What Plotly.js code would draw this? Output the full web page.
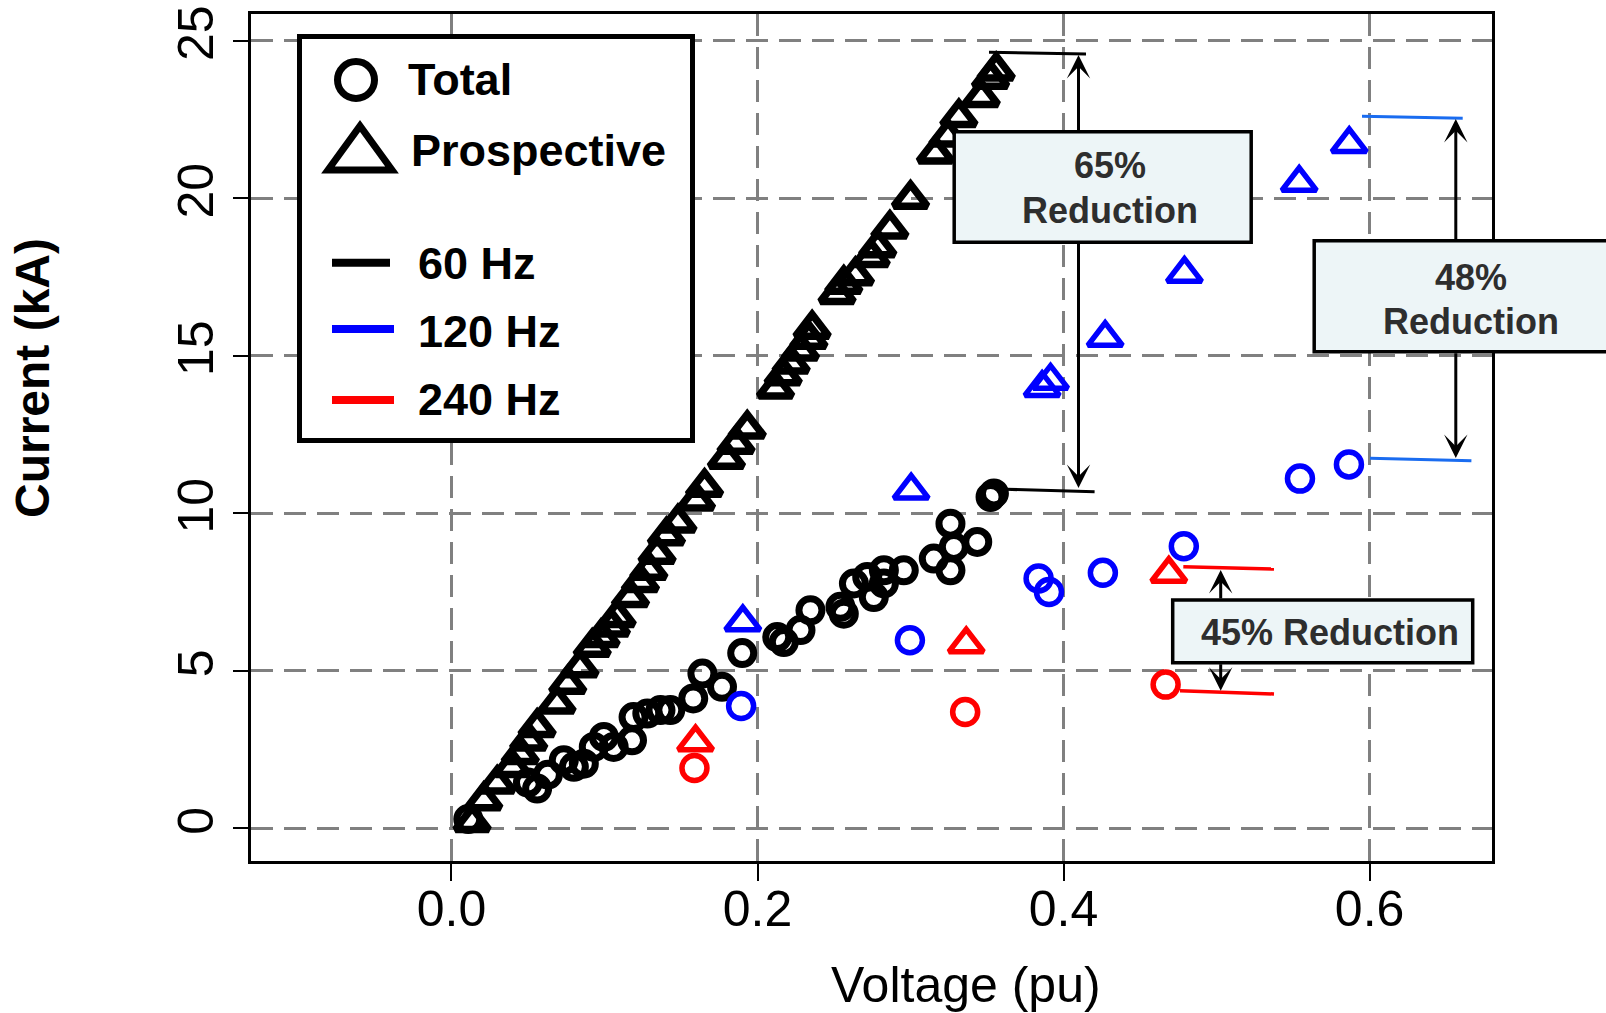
<!DOCTYPE html>
<html><head><meta charset="utf-8">
<script src="https://cdn.plot.ly/plotly-3.0.1.min.js"></script>
<style>html,body{margin:0;padding:0;background:#fff;}#chart{width:1606px;height:1013px;}</style>
</head><body><div id="chart"></div>
<script>
// ---------------- data ----------------
const pro60_x = [0.0135,0.0211,0.0299,0.0397,0.0450,0.0505,0.0560,0.0690,0.0760,0.0840,0.0920,0.0978,0.1045,0.1083,0.1170,0.1235,0.1290,0.1344,0.1405,0.1480,0.1601,0.1654,0.1797,0.1860,0.1933,0.2118,0.2168,0.2220,0.2281,0.2336,0.2357,0.2520,0.2564,0.2640,0.2743,0.2786,0.2865,0.3000,0.3163,0.3245,0.3316,0.3462,0.3523,0.3560];
const pro60_y = [0.19,0.88,1.41,1.94,2.35,2.78,3.21,3.95,4.58,5.10,5.75,6.06,6.40,6.70,7.33,7.81,8.20,8.71,9.29,9.70,10.40,10.83,11.72,12.20,12.68,13.95,14.37,14.75,15.16,15.53,15.85,16.95,17.28,17.55,18.13,18.44,19.03,19.98,21.41,21.95,22.57,23.21,23.79,24.05];
const tot60_x = [0.011,0.050,0.056,0.063,0.0734,0.080,0.0865,0.093,0.0996,0.106,0.118,0.119,0.128,0.1366,0.143,0.158,0.164,0.1768,0.190,0.2129,0.2172,0.2281,0.2346,0.2542,0.2564,0.263,0.2717,0.276,0.2826,0.2826,0.2956,0.3152,0.3261,0.3283,0.3261,0.3436,0.3523,0.3545];
const tot60_y = [0.29,1.45,1.26,1.70,2.16,1.95,2.05,2.58,2.90,2.58,2.79,3.53,3.64,3.75,3.75,4.12,4.91,4.49,5.56,6.07,5.91,6.29,6.92,7.03,6.81,7.77,7.98,7.34,8.19,7.77,8.19,8.56,9.67,8.93,8.19,9.09,10.52,10.63];
const pro120_x = [0.1904,0.3004,0.3860,0.3915,0.4272,0.4790,0.5540,0.5867];
const pro120_y = [6.54,10.72,13.98,14.21,15.57,17.60,20.49,21.72];
const tot120_x = [0.1893,0.2996,0.3837,0.3905,0.4257,0.4786,0.5545,0.5865];
const tot120_y = [3.88,5.97,7.93,7.50,8.11,8.95,11.10,11.55];
const pro240_x = [0.1595,0.3364,0.4688];
const pro240_y = [2.73,5.84,8.08];
const tot240_x = [0.1588,0.3357,0.4667];
const tot240_y = [1.91,3.69,4.56];
const xTickVals = [0,0.2,0.4,0.6];
const xTickText = ['0.0','0.2','0.4','0.6'];
const yTickVals = [0,5,10,15,20,25];
const yTickText = ['0','5','10','15','20','25'];
const legendLabels = ['Total','Prospective','60 Hz','120 Hz','240 Hz'];
const reductionLabels = ['65%','Reduction','48%','Reduction','45% Reduction'];

// ---------------- layout helpers (pixel -> paper) ----------------
const ML=251, MT=14, PW=1241, PH=847;
function fx(p){return (p-ML)/PW;}
function fy(p){return (MT+PH-p)/PH;}
const FONT = 'Liberation Sans, Arial, sans-serif';

const traces = [
  {x:pro60_x, y:pro60_y, mode:'markers', type:'scatter',
   marker:{symbol:'triangle-up-open', size:29, color:'#000', line:{width:7.5, color:'#000'}}},
  {x:tot60_x, y:tot60_y, mode:'markers', type:'scatter',
   marker:{symbol:'circle-open', size:23, color:'#000', line:{width:7, color:'#000'}}},
  {x:pro120_x, y:pro120_y, mode:'markers', type:'scatter',
   marker:{symbol:'triangle-up-open', size:30, color:'#0000ff', line:{width:5.5, color:'#0000ff'}}},
  {x:tot120_x, y:tot120_y, mode:'markers', type:'scatter',
   marker:{symbol:'circle-open', size:25, color:'#0000ff', line:{width:5.5, color:'#0000ff'}}},
  {x:pro240_x, y:pro240_y, mode:'markers', type:'scatter',
   marker:{symbol:'triangle-up-open', size:30, color:'#ff0000', line:{width:5.5, color:'#ff0000'}}},
  {x:tot240_x, y:tot240_y, mode:'markers', type:'scatter',
   marker:{symbol:'circle-open', size:25, color:'#ff0000', line:{width:5.5, color:'#ff0000'}}}
];

function seg(x0,y0,x1,y1,color,w){
  return {type:'line', xref:'paper', yref:'paper', x0:fx(x0), y0:fy(y0), x1:fx(x1), y1:fy(y1),
          line:{color:color, width:w}, layer:'above'};
}
function box(x0,y0,x1,y1,fill,w){
  return {type:'rect', xref:'paper', yref:'paper', x0:fx(x0), y0:fy(y0), x1:fx(x1), y1:fy(y1),
          line:{color:'#000', width:w}, fillcolor:fill, layer:'above'};
}
const tri = 'M'+fx(328)+','+fy(170)+' L'+fx(360)+','+fy(126)+' L'+fx(392)+','+fy(170)+' Z';

const shapes = [
  seg(989,52.3,1086,54,'#000',3),
  seg(1006,489.3,1094.6,491.7,'#000',3),
  seg(1362,116.3,1462.7,118.3,'#1a6cf0',3),
  seg(1370,458.3,1471.4,460.7,'#1a6cf0',3),
  seg(1183.3,566.7,1274,569,'#ff0000',3.5),
  seg(1180,690.7,1274,694,'#ff0000',3.5),
  box(954.2,131.7,1251.2,242.3,'#edf5f7',3.5),
  box(1314.2,240.7,1640,351.7,'#edf5f7',3.5),
  box(1172.7,600,1472.7,662.7,'#edf5f7',3.5),
  box(299.5,36.5,692.5,440.5,'#ffffff',5),
  {type:'circle', xref:'paper', yref:'paper', x0:fx(337.5), x1:fx(374.5), y0:fy(61.5), y1:fy(98.5),
   line:{color:'#000', width:7}, layer:'above'},
  {type:'path', xref:'paper', yref:'paper', path:tri, line:{color:'#000', width:7}, layer:'above'},
  seg(332,262.7,390,262.7,'#000',8),
  seg(332,329,394,329,'#0000ff',8),
  seg(332,400,394,400,'#ff0000',8)
];

function txt(s,x,y,size,opts){
  return Object.assign({text:s, xref:'paper', yref:'paper', x:fx(x), y:fy(y), showarrow:false,
    xanchor:'center', yanchor:'middle', font:{family:FONT, size:size, color:'#000'}}, opts||{});
}
function arrow(x,tipY,tailY){
  return {text:'', xref:'paper', yref:'paper', x:fx(x), y:fy(tipY), axref:'pixel', ayref:'pixel',
    ax:0, ay:(tailY-tipY), showarrow:true, arrowhead:3, arrowsize:1.3, arrowwidth:3,
    arrowcolor:'#000', standoff:0, startstandoff:0, arrowside:'end'};
}
const B = '#2e2e2e';
const annotations = [
  arrow(1078.5,55,131.7), arrow(1078.5,488,242.3),
  arrow(1455.8,119,240.7), arrow(1455.8,458,351.7),
  arrow(1220.7,570,600), arrow(1220.7,690.7,662.7),
  txt('<b>'+reductionLabels[0]+'</b>',1110,165.5,36,{font:{family:FONT,size:36,color:B}}),
  txt('<b>'+reductionLabels[1]+'</b>',1110,210.5,36,{font:{family:FONT,size:36,color:B}}),
  txt('<b>'+reductionLabels[2]+'</b>',1471,277.5,36,{font:{family:FONT,size:36,color:B}}),
  txt('<b>'+reductionLabels[3]+'</b>',1471,321.5,36,{font:{family:FONT,size:36,color:B}}),
  txt('<b>'+reductionLabels[4]+'</b>',1330,632.5,36,{font:{family:FONT,size:36,color:B}}),
  txt('<b>'+legendLabels[0]+'</b>',406,79.4,45,{xanchor:'left'}),
  txt('<b>'+legendLabels[1]+'</b>',409,151,45,{xanchor:'left'}),
  txt('<b>'+legendLabels[2]+'</b>',416,263.4,45,{xanchor:'left'}),
  txt('<b>'+legendLabels[3]+'</b>',416,331.4,45,{xanchor:'left'}),
  txt('<b>'+legendLabels[4]+'</b>',416,399.4,45,{xanchor:'left'}),
  txt('Voltage (pu)',966,984.7,50),
  txt('<b>Current (kA)</b>',32,378,48,{textangle:-90})
];

const axisCommon = {
  showline:true, linecolor:'#000', linewidth:3, mirror:true,
  ticks:'outside', tickcolor:'#000', tickwidth:2,
  showgrid:true, gridcolor:'#808080', gridwidth:3, griddash:'22px,11px',
  zeroline:false, tickfont:{family:FONT, size:50, color:'#000'}, fixedrange:true
};
const layout = {
  width:1606, height:1013,
  margin:{l:ML, r:1606-ML-PW, t:MT, b:1013-MT-PH, pad:0},
  paper_bgcolor:'#fff', plot_bgcolor:'#fff', showlegend:false, hovermode:false,
  xaxis:Object.assign({}, axisCommon, {range:[-0.131,0.680], tickmode:'array', tickvals:xTickVals, ticktext:xTickText, ticklen:17, ticklabelstandoff:-15}),
  yaxis:Object.assign({}, axisCommon, {range:[-1.04,25.85], tickmode:'array', tickvals:yTickVals, ticktext:yTickText, ticklen:15, tickangle:-90}),
  shapes:shapes, annotations:annotations
};
Plotly.newPlot('chart', traces, layout, {staticPlot:true, displayModeBar:false});
</script></body></html>
